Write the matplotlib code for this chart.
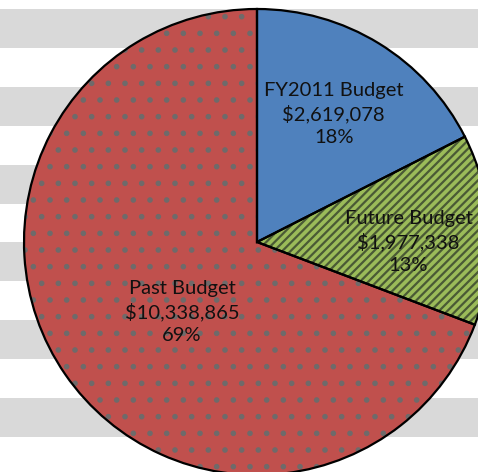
import numpy as np
import matplotlib
matplotlib.use("Agg")
import matplotlib.pyplot as plt

# data
categories = ["FY2011 Budget", "Future Budget", "Past Budget"]
values = [2619078, 1977338, 10338865]
colors = ["#4F81BD", "#9BBB59", "#C0504D"]
hatches = [None, "////", "."]
hatch_colors = ["#4F81BD", "#4a5a35", "#6f6a6a"]

# background stripes (pixel rows, top-down)
stripe_tops = [9, 87, 165, 242, 320, 398]
stripe_h = 39

W, H = 478, 472
cx, cy, R = 257, 242, 233   # pie centre / radius in pixels

plt.rcParams["font.family"] = ["Lato", "DejaVu Sans"]
plt.rcParams["hatch.linewidth"] = 1.6

fig = plt.figure(figsize=(W / 100, H / 100), dpi=100)

bg = fig.add_axes([0, 0, 1, 1])
bg.set_xlim(0, W)
bg.set_ylim(H, 0)
for t in stripe_tops:
    bg.axhspan(t, t + stripe_h, color="#D9D9D9", lw=0)
bg.axis("off")

ax = fig.add_axes([0, 0, 1, 1])
ax.patch.set_alpha(0)
ax.axis("off")

total = sum(values)

# fill + hatch layer
wedges, _ = ax.pie(values, startangle=90, counterclock=False, radius=1,
                   colors=colors, wedgeprops=dict(linewidth=0))
for w, h, hc in zip(wedges, hatches, hatch_colors):
    if h:
        w.set_hatch(h)
        w.set_edgecolor(hc)
        w.set_linewidth(0)

# outline layer
ax.pie(values, startangle=90, counterclock=False, radius=1,
       wedgeprops=dict(fill=False, edgecolor="black", linewidth=1.6))

ax.set_xlim(-cx / R, (W - cx) / R)
ax.set_ylim((cy - H) / R, cy / R)
ax.set_aspect("auto")

# label placement (distance fraction, angle in degrees)
label_pos = [(0.64, 59), (0.65, 0), (0.44, 223)]
for name, v, (d, ang) in zip(categories, values, label_pos):
    pct = v / total * 100
    txt = f"{name}\n${v:,.0f}\n{pct:.0f}%"
    x = d * np.cos(np.radians(ang))
    y = d * np.sin(np.radians(ang))
    ax.text(x, y, txt, ha="center", va="center", fontsize=14.5,
            linespacing=1.38, color="#111111")

fig.savefig("out.png", dpi=100)
